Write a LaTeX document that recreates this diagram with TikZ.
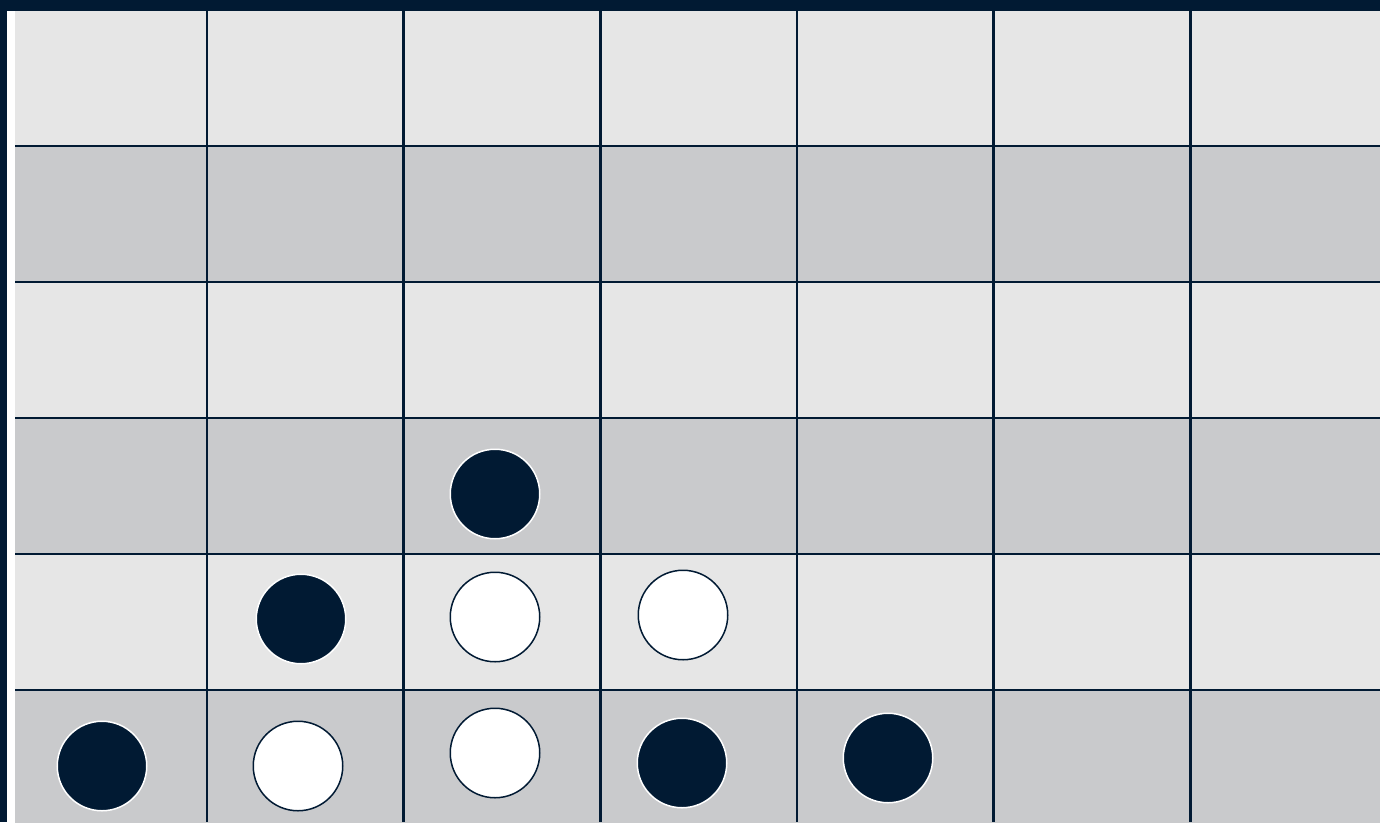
\documentclass[tikz,border=0pt]{standalone}
\usepackage{tikz}
\usepackage{xcolor}

\definecolor{boardnavy}{HTML}{011A33}
\definecolor{lightrow}{HTML}{E6E6E6}
\definecolor{darkrow}{HTML}{C9CACC}

\tikzset{
    disc/.style={circle, minimum size=89.5pt, inner sep=0pt, line width=1.5pt},
    blackdisc/.style={disc, fill=boardnavy, draw=white},
    whitedisc/.style={disc, fill=white, draw=boardnavy},
    gridline/.style={boardnavy, line width=2.5pt}
}

\begin{document}
\begin{tikzpicture}[x=1pt, y=-1pt]

    % Frame of the picture
    \useasboundingbox (0,0) rectangle (1380,822);
    \fill[boardnavy] (0,0) rectangle (1380,822);
    \fill[white] (7,11) rectangle (15,822);

    % Rows of the board, light and dark in turn
    \foreach \r in {0,...,5} {
        \pgfmathsetmacro{\ytop}{10+136*\r}
        \ifodd\r
            \fill[darkrow] (15,\ytop) rectangle (1380,\ytop+136);
        \else
            \fill[lightrow] (15,{max(\ytop,11)}) rectangle (1380,\ytop+136);
        \fi
    }

    % Grid lines
    \foreach \k in {1,...,5}
        \draw[gridline] (15,10+136*\k) -- (1380,10+136*\k);
    \foreach \k in {1,...,6}
        \draw[gridline] (10.3+196.67*\k,11) -- (10.3+196.67*\k,822);

    % Discs on the board
    \node[blackdisc] (b1) at (495,494) {};

    \node[blackdisc] (b2) at (301,619) {};
    \node[whitedisc] (w1) at (495,617) {};
    \node[whitedisc] (w2) at (683,615) {};

    \node[blackdisc] (b3) at (102,766) {};
    \node[whitedisc] (w3) at (298,766) {};
    \node[whitedisc] (w4) at (495,753) {};
    \node[blackdisc] (b4) at (682,763) {};
    \node[blackdisc] (b5) at (888,758) {};

\end{tikzpicture}
\end{document}
